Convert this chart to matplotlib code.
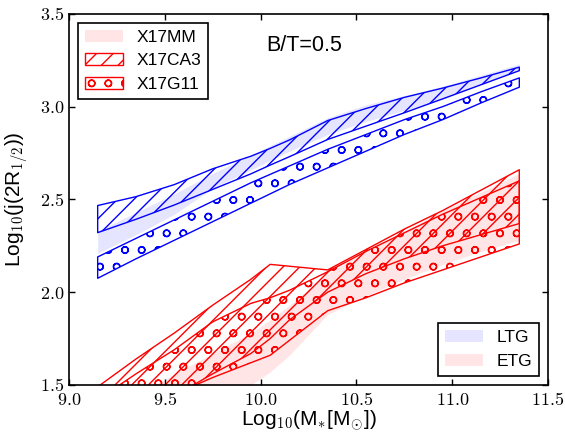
import matplotlib
matplotlib.use('Agg')
import matplotlib.pyplot as plt
from matplotlib.patches import Patch
from matplotlib.ticker import FuncFormatter

plt.rcParams['font.family'] = 'sans-serif'
plt.rcParams['font.sans-serif'] = ['Liberation Sans', 'DejaVu Sans']
plt.rcParams['mathtext.fontset'] = 'cm'
plt.rcParams['hatch.linewidth'] = 1.0

# log stellar mass grid
mass = [9.15, 9.35, 9.55, 9.75, 9.95, 10.05, 10.15, 10.35, 10.55, 10.75,
        10.95, 11.15, 11.35]

# LTG (blue)
ltg_mm_hi = [2.33, 2.43, 2.53, 2.64, 2.74, 2.79, 2.84, 2.94, 3.01, 3.06,
             3.11, 3.17, 3.23]
ltg_mm_lo = [2.21, 2.31, 2.42, 2.56, 2.66, 2.71, 2.76, 2.85, 2.92, 2.98,
             3.04, 3.12, 3.20]
ltg_ca3_hi = [2.467, 2.515, 2.58, 2.665, 2.733, 2.775, 2.82, 2.925, 2.99,
              3.05, 3.10, 3.155, 3.213]
ltg_ca3_lo = [2.321, 2.393, 2.47, 2.554, 2.638, 2.685, 2.73, 2.823, 2.895,
              2.967, 3.042, 3.118, 3.194]
ltg_g11_hi = [2.19, 2.29, 2.39, 2.49, 2.59, 2.635, 2.68, 2.77, 2.85, 2.93,
              3.00, 3.08, 3.155]
ltg_g11_lo = [2.075, 2.18, 2.28, 2.38, 2.48, 2.53, 2.58, 2.67, 2.76, 2.85,
              2.93, 3.02, 3.105]

# ETG (red)
etg_mm_hi = [1.33, 1.44, 1.56, 1.67, 1.78, 1.85, 1.93, 2.10, 2.22, 2.33,
             2.44, 2.54, 2.64]
etg_mm_lo = [0.95, 1.10, 1.25, 1.38, 1.50, 1.57, 1.66, 1.88, 1.98, 2.07,
             2.15, 2.22, 2.28]
etg_ca3_hi = [1.49, 1.64, 1.78, 1.93, 2.07, 2.15, 2.14, 2.12, 2.23, 2.34,
              2.44, 2.55, 2.66]
etg_ca3_lo = [1.20, 1.32, 1.44, 1.56, 1.67, 1.75, 1.85, 2.00, 2.10, 2.18,
              2.25, 2.31, 2.37]
etg_g11_hi = [1.42, 1.56, 1.69, 1.84, 1.94, 1.97, 2.01, 2.11, 2.22, 2.32,
              2.42, 2.51, 2.60]
etg_g11_lo = [1.20, 1.30, 1.45, 1.54, 1.62, 1.66, 1.74, 1.90, 1.97, 2.05,
              2.12, 2.19, 2.26]

fig = plt.figure(figsize=(5.65, 4.34), dpi=100)
ax = fig.add_axes([0.122, 0.113, 0.848, 0.855])


def draw_bands(color, mm_lo, mm_hi, ca3_lo, ca3_hi, g11_lo, g11_hi):
    ax.fill_between(mass, mm_lo, mm_hi, color=color, alpha=0.1, lw=0)
    ax.fill_between(mass, ca3_lo, ca3_hi, facecolor='none',
                    edgecolor=color, hatch='//', lw=1)
    ax.fill_between(mass, g11_lo, g11_hi, facecolor='none',
                    edgecolor=color, hatch='o', lw=1)


draw_bands('blue', ltg_mm_lo, ltg_mm_hi, ltg_ca3_lo, ltg_ca3_hi,
           ltg_g11_lo, ltg_g11_hi)
draw_bands('red', etg_mm_lo, etg_mm_hi, etg_ca3_lo, etg_ca3_hi,
           etg_g11_lo, etg_g11_hi)

ax.set_xlim(9.0, 11.5)
ax.set_ylim(1.5, 3.5)
ax.set_xticks([9.0, 9.5, 10.0, 10.5, 11.0, 11.5])
ax.set_yticks([1.5, 2.0, 2.5, 3.0, 3.5])
fmt = FuncFormatter(lambda v, p: f'${v:.1f}$')
ax.xaxis.set_major_formatter(fmt)
ax.yaxis.set_major_formatter(fmt)
ax.tick_params(direction='in', top=True, right=True, length=4, width=1,
               labelsize=13)
ax.tick_params(axis='x', pad=5)
for sp in ax.spines.values():
    sp.set_linewidth(1.2)

ax.set_xlabel(r'Log$_{10}$(M$_{*}$[M$_{\odot}$])', fontsize=15, labelpad=0)
ax.set_ylabel(r'Log$_{10}$(j(2R$_{1/2}$))', fontsize=15, labelpad=6)
ax.text(10.23, 3.33, 'B/T=0.5', fontsize=15.5, ha='center', va='center')

h1 = [Patch(facecolor='red', alpha=0.1, lw=0, label='X17MM'),
      Patch(facecolor='none', edgecolor='red', hatch='//', label='X17CA3'),
      Patch(facecolor='none', edgecolor='red', hatch='o', label='X17G11')]
leg1 = ax.legend(handles=h1, loc='upper left', fontsize=12.5, fancybox=False,
                 edgecolor='black', framealpha=1, handlelength=2.2)
leg1.get_frame().set_linewidth(1.2)
ax.add_artist(leg1)

h2 = [Patch(facecolor='blue', alpha=0.1, lw=0, label='LTG'),
      Patch(facecolor='red', alpha=0.1, lw=0, label='ETG')]
leg2 = ax.legend(handles=h2, loc='lower right', fontsize=12.5, fancybox=False,
                 edgecolor='black', framealpha=1, handlelength=2.2)
leg2.get_frame().set_linewidth(1.2)

fig.savefig('out.png', dpi=100)
